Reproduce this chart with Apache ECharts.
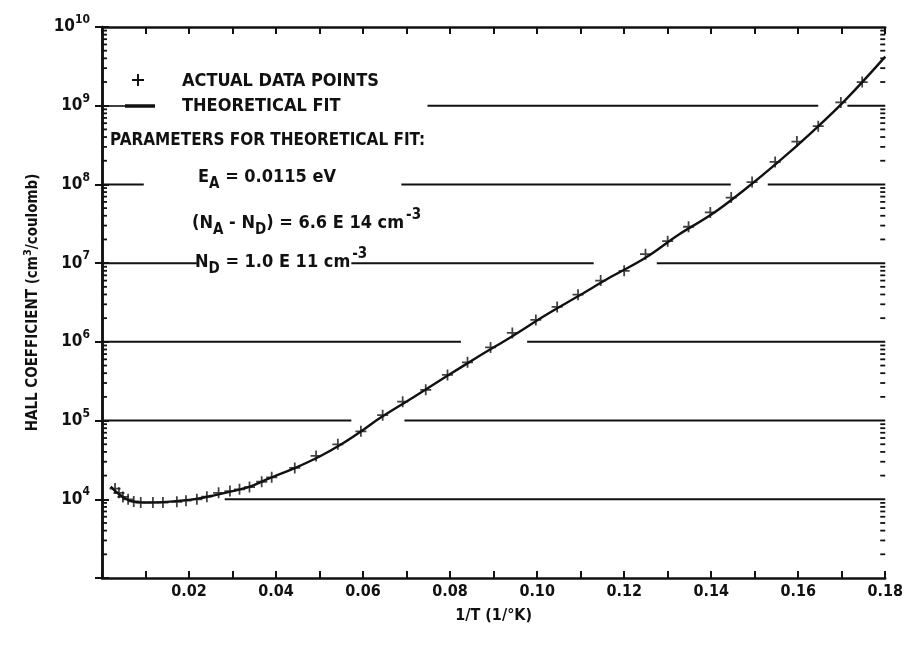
<!DOCTYPE html>
<html>
<head>
<meta charset="utf-8">
<script src="https://cdn.jsdelivr.net/npm/echarts@6/dist/echarts.min.js"></script>
<style>
  html, body { margin: 0; padding: 0; background: #fff; }
  #chart { width: 906px; height: 653px; }
</style>
</head>
<body>
<div id="chart"></div>
<script>
// Measured Hall coefficient (cm^3/coulomb) versus inverse temperature (1/K)
const pointX = [0.0030, 0.0039, 0.0048, 0.0060, 0.0073, 0.0089, 0.0117, 0.0140, 0.0172, 0.0193,
                0.0218, 0.0241, 0.0268, 0.0294, 0.0316, 0.0339, 0.0367, 0.0390, 0.0443, 0.0492,
                0.0542, 0.0595, 0.0645, 0.0691, 0.0744, 0.0794, 0.0840, 0.0893, 0.0943, 0.0997,
                0.1046, 0.1094, 0.1146, 0.1200, 0.1249, 0.1300, 0.1348, 0.1398, 0.1446, 0.1494,
                0.1547, 0.1597, 0.1646, 0.1698, 0.1747];
const pointY = [1.37e4, 1.21e4, 1.07e4, 1.0e4, 9.4e3, 9.1e3, 9.1e3, 9.1e3, 9.3e3, 9.6e3,
                1.0e4, 1.08e4, 1.21e4, 1.27e4, 1.34e4, 1.43e4, 1.67e4, 1.9e4, 2.5e4, 3.55e4,
                5.0e4, 7.3e4, 1.17e5, 1.74e5, 2.46e5, 3.8e5, 5.5e5, 8.5e5, 1.3e6, 1.9e6,
                2.78e6, 3.97e6, 6.0e6, 8.0e6, 1.3e7, 1.9e7, 2.9e7, 4.4e7, 6.8e7, 1.07e8,
                1.93e8, 3.5e8, 5.5e8, 1.1e9, 2.0e9];

// Theoretical fit curve
const fitX = [0.002, 0.004, 0.006, 0.008, 0.010, 0.014, 0.018, 0.022, 0.026, 0.030,
              0.034, 0.038, 0.040, 0.044, 0.050, 0.055, 0.060, 0.0637, 0.0714, 0.079,
              0.0867, 0.0943, 0.102, 0.1096, 0.1172, 0.1249, 0.1325, 0.1402, 0.1478, 0.1555,
              0.1631, 0.1707, 0.180];
const fitY = [1.45e4, 1.15e4, 9.8e3, 9.2e3, 9.1e3, 9.2e3, 9.6e3, 1.02e4, 1.13e4, 1.27e4,
              1.45e4, 1.8e4, 2.0e4, 2.45e4, 3.5e4, 5.0e4, 7.6e4, 1.06e5, 1.95e5, 3.6e5,
              6.6e5, 1.18e6, 2.19e6, 3.85e6, 6.8e6, 1.17e7, 2.3e7, 4.2e7, 8.7e7, 1.95e8,
              4.6e8, 1.16e9, 4.2e9];

// Broken decade rules: level, start and end of each drawn piece (in 1/T)
const ruleLevel = [1e9, 1e9, 1e8, 1e8, 1e8, 1e7, 1e7, 1e7, 1e6, 1e6, 1e5, 1e5, 1e4];
const ruleFrom  = [0.0748, 0.1713, 0.0, 0.0688, 0.1530, 0.0, 0.0573, 0.1275, 0.0, 0.0977, 0.0, 0.0695, 0.0282];
const ruleTo    = [0.1646, 0.1800, 0.0096, 0.1445, 0.1800, 0.0218, 0.1130, 0.1800, 0.0825, 0.1800, 0.0573, 0.1800, 0.1800];

const xMin = 0, xMax = 0.18, xStep = 0.01;
const yMin = 1e3, yMax = 1e10;

const FONT = "'Liberation Sans Narrow', 'DejaVu Sans Condensed', 'Noto Sans', sans-serif";
const INK = '#111';

// log minor tick positions (2..9 within each decade)
const minorTicks = [];
for (let e = 3; e < 10; e++) {
  for (let m = 2; m <= 9; m++) minorTicks.push([xMin, m * Math.pow(10, e)]);
}

const rules = ruleLevel.map((v, i) => [ruleFrom[i], ruleTo[i], v]);
const points = pointX.map((x, i) => [x, pointY[i]]);
const fit = fitX.map((x, i) => [x, fitY[i]]);

const chart = echarts.init(document.getElementById('chart'), null, { renderer: 'canvas' });

const plusPath = 'path://M4.2,0H5.8V10H4.2ZM0,4.2H10V5.8H0Z';

function expLabel(v) {
  const e = Math.round(Math.log10(v));
  if (e <= 3) return '';
  return '{b|10}{e|' + e + '}';
}

const option = {
  animation: false,
  backgroundColor: '#fff',
  grid: { left: 102, right: 19, top: 27, bottom: 75 },
  xAxis: [{
    type: 'value', min: xMin, max: xMax, interval: xStep, position: 'bottom',
    name: '1/T (1/\u00B0K)', nameLocation: 'middle', nameGap: 30,
    nameTextStyle: { fontFamily: FONT, fontSize: 16, fontWeight: 'bold', color: INK },
    axisLine: { lineStyle: { color: INK, width: 2.5 } },
    axisTick: { inside: true, length: 7, lineStyle: { color: INK, width: 2 } },
    axisLabel: {
      fontFamily: FONT, fontSize: 16, fontWeight: 'bold', color: INK, margin: 6,
      formatter: v => {
        const k = Math.round(v / xStep);
        return (k > 0 && k % 2 === 0) ? v.toFixed(2) : '';
      }
    },
    splitLine: { show: false }
  }, {
    type: 'value', min: xMin, max: xMax, interval: xStep, position: 'top',
    axisLine: { lineStyle: { color: INK, width: 2.5 } },
    axisTick: { inside: true, length: 7, lineStyle: { color: INK, width: 2 } },
    axisLabel: { show: false },
    splitLine: { show: false }
  }],
  yAxis: [{
    type: 'log', logBase: 10, min: yMin, max: yMax, splitNumber: 7, position: 'left',
    name: '{t|HALL COEFFICIENT (cm}{u|3}{t|/coulomb)}', nameLocation: 'middle', nameGap: 58,
    nameTextStyle: {
      rich: {
        t: { fontFamily: FONT, fontSize: 15, fontWeight: 'bold', color: INK },
        u: { fontFamily: FONT, fontSize: 11, fontWeight: 'bold', color: INK, padding: [0, 0, 10, 0] }
      }
    },
    axisLine: { lineStyle: { color: INK, width: 2.5 } },
    axisTick: { inside: true, length: 7, lineStyle: { color: INK, width: 2 } },
    axisLabel: {
      margin: 12, formatter: expLabel,
      rich: {
        b: { fontFamily: FONT, fontSize: 17, fontWeight: 'bold', color: INK },
        e: { fontFamily: FONT, fontSize: 12, fontWeight: 'bold', color: INK, padding: [0, 0, 14, 0] }
      }
    },
    splitLine: { show: false }
  }, {
    type: 'log', logBase: 10, min: yMin, max: yMax, splitNumber: 7, position: 'right',
    axisLine: { lineStyle: { color: INK, width: 2.5 } },
    axisTick: { inside: true, length: 7, lineStyle: { color: INK, width: 2 } },
    axisLabel: { show: false },
    splitLine: { show: false }
  }],
  graphic: [
    // legend: data-point marker and fit line sample
    { type: 'rect', shape: { x: 137, y: 74, width: 2, height: 12 }, style: { fill: INK } },
    { type: 'rect', shape: { x: 132, y: 79, width: 12, height: 2 }, style: { fill: INK } },
    { type: 'line', shape: { x1: 104, y1: 106, x2: 125, y2: 106 }, style: { stroke: INK, lineWidth: 1.6 } },
    { type: 'line', shape: { x1: 125, y1: 106, x2: 155, y2: 106 }, style: { stroke: INK, lineWidth: 3.5 } },
    { type: 'text', left: 182, top: 72, style: { text: 'ACTUAL DATA POINTS', font: 'bold 18px ' + FONT, fill: INK } },
    { type: 'text', left: 182, top: 97, style: { text: 'THEORETICAL FIT', font: 'bold 18px ' + FONT, fill: INK } },
    { type: 'text', left: 110, top: 132, style: { text: 'PARAMETERS FOR THEORETICAL FIT:', font: 'bold 17px ' + FONT, fill: INK } },
    { type: 'text', left: 198, top: 168, style: {
        text: '{m|E}{s|A}{m| = 0.0115 eV}',
        rich: {
          m: { font: 'bold 18px ' + FONT, fill: INK },
          s: { font: 'bold 15px ' + FONT, fill: INK, padding: [14, 0, 0, 0] }
        } } },
    { type: 'text', left: 192, top: 208, style: {
        text: '{m|(N}{s|A}{m| - N}{s|D}{m|) = 6.6 E 14 cm}{p|-3}',
        rich: {
          m: { font: 'bold 18px ' + FONT, fill: INK },
          s: { font: 'bold 15px ' + FONT, fill: INK, padding: [14, 0, 0, 0] },
          p: { font: 'bold 15px ' + FONT, fill: INK, padding: [0, 0, 16, 2] }
        } } },
    { type: 'text', left: 195, top: 247, style: {
        text: '{m|N}{s|D}{m| = 1.0 E 11 cm}{p|-3}',
        rich: {
          m: { font: 'bold 18px ' + FONT, fill: INK },
          s: { font: 'bold 15px ' + FONT, fill: INK, padding: [14, 0, 0, 0] },
          p: { font: 'bold 15px ' + FONT, fill: INK, padding: [0, 0, 16, 2] }
        } } }
  ],
  series: [
    {
      // broken horizontal decade rules
      type: 'custom', xAxisIndex: 0, yAxisIndex: 0, data: rules,
      encode: { x: [0, 1], y: 2 }, silent: true, z: 1,
      renderItem: (params, api) => {
        const a = api.coord([api.value(0), api.value(2)]);
        const b = api.coord([api.value(1), api.value(2)]);
        return { type: 'line', shape: { x1: a[0], y1: a[1], x2: b[0], y2: b[1] },
                 style: { stroke: INK, lineWidth: 2 } };
      }
    },
    {
      // minor log ticks on both vertical edges
      type: 'custom', xAxisIndex: 0, yAxisIndex: 0, data: minorTicks,
      encode: { x: 0, y: 1 }, silent: true, z: 3, clip: false,
      renderItem: (params, api) => {
        const l = api.coord([xMin, api.value(1)]);
        const r = api.coord([xMax, api.value(1)]);
        return { type: 'group', children: [
          { type: 'line', shape: { x1: l[0], y1: l[1], x2: l[0] + 5, y2: l[1] }, style: { stroke: INK, lineWidth: 1.8 } },
          { type: 'line', shape: { x1: r[0], y1: r[1], x2: r[0] - 5, y2: r[1] }, style: { stroke: INK, lineWidth: 1.8 } }
        ] };
      }
    },
    {
      name: 'THEORETICAL FIT', type: 'line', data: fit, smooth: 0.4, symbol: 'none',
      lineStyle: { color: INK, width: 2.4 }, z: 4
    },
    {
      name: 'ACTUAL DATA POINTS', type: 'scatter', data: points, symbol: plusPath, symbolSize: 11,
      itemStyle: { color: INK }, z: 5
    }
  ]
};

chart.setOption(option);
</script>
</body>
</html>
